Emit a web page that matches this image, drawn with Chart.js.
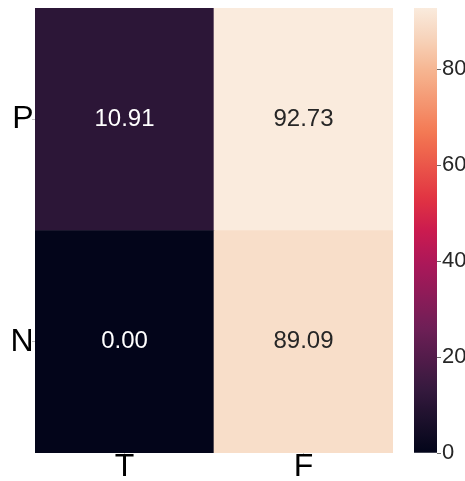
<!DOCTYPE html>
<html>
<head>
<meta charset="utf-8">
<script src="https://cdn.jsdelivr.net/npm/chart.js@4/dist/chart.umd.min.js"></script>
<style>
  html, body { margin: 0; padding: 0; background: #ffffff; }
  #wrap { position: relative; width: 465px; height: 481px; }
  #wrap canvas { position: absolute; left: 0; top: 0; }
</style>
</head>
<body>
<div id="wrap">
  <canvas id="heat" width="465" height="481"></canvas>
  <canvas id="cbar" width="465" height="481"></canvas>
</div>
<script>
// Heatmap contents: rows top to bottom, columns left to right
const rowLabels = ['P', 'N'];
const colLabels = ['T', 'F'];
const rowP = [10.91, 92.73];
const rowN = [0.00, 89.09];
const colorbarTicks = [0, 20, 40, 60, 80];

const cells = [rowP, rowN];
const allValues = cells.flat();
const vmin = Math.min(...allValues);
const vmax = Math.max(...allValues);

const FONT = '"Liberation Sans", Arial, sans-serif';

// "rocket" sequential colormap, sampled stops
const rocketStops = [
  [0.000, [3, 5, 26]],
  [0.050, [19, 13, 37]],
  [0.143, [53, 25, 62]],
  [0.286, [112, 31, 87]],
  [0.429, [173, 23, 89]],
  [0.500, [203, 27, 79]],
  [0.571, [225, 51, 66]],
  [0.714, [243, 118, 81]],
  [0.857, [246, 180, 143]],
  [0.930, [247, 211, 186]],
  [1.000, [250, 235, 221]]
];

function rocketRGB(t) {
  t = Math.max(0, Math.min(1, t));
  for (let i = 1; i < rocketStops.length; i++) {
    const [t1, c1] = rocketStops[i];
    const [t0, c0] = rocketStops[i - 1];
    if (t <= t1) {
      const f = (t - t0) / (t1 - t0);
      return c0.map((c, k) => Math.round(c + (c1[k] - c) * f));
    }
  }
  return rocketStops[rocketStops.length - 1][1];
}
function rgbStr(c) { return 'rgb(' + c[0] + ',' + c[1] + ',' + c[2] + ')'; }
function colorFor(v) { return rgbStr(rocketRGB((v - vmin) / (vmax - vmin))); }
function textColorFor(v) {
  const c = rocketRGB((v - vmin) / (vmax - vmin)).map(x => {
    x /= 255;
    return x <= 0.03928 ? x / 12.92 : Math.pow((x + 0.055) / 1.055, 2.4);
  });
  const lum = 0.2126 * c[0] + 0.7152 * c[1] + 0.0722 * c[2];
  return lum > 0.408 ? 'rgb(38,38,38)' : '#ffffff';
}

function noPadding(scale) {
  scale.paddingTop = 0; scale.paddingBottom = 0;
  scale.paddingLeft = 0; scale.paddingRight = 0;
}

// Each row is one stacked band of unit height; colour encodes the cell value
const heatDatasets = rowLabels.map((r, i) => ({
  label: r,
  data: colLabels.map(() => 1),
  cellValues: cells[i],
  backgroundColor: cells[i].map(colorFor),
  borderWidth: 0,
  barPercentage: 1,
  categoryPercentage: 1
})).reverse();

const cellText = {
  id: 'cellText',
  afterDatasetsDraw(chart) {
    const ctx = chart.ctx;
    ctx.save();
    ctx.font = '24px ' + FONT;
    ctx.textAlign = 'center';
    ctx.textBaseline = 'middle';
    chart.data.datasets.forEach((ds, di) => {
      chart.getDatasetMeta(di).data.forEach((el, j) => {
        const v = ds.cellValues[j];
        const p = el.getProps(['x', 'y', 'base'], true);
        ctx.fillStyle = textColorFor(v);
        ctx.fillText(v.toFixed(2), p.x, (p.y + p.base) / 2);
      });
    });
    ctx.restore();
  }
};

new Chart(document.getElementById('heat'), {
  type: 'bar',
  data: { labels: colLabels, datasets: heatDatasets },
  options: {
    responsive: false,
    animation: false,
    layout: { padding: { left: 0, top: 8, right: 72, bottom: 0 } },
    plugins: { legend: { display: false }, tooltip: { enabled: false } },
    scales: {
      x: {
        stacked: true,
        offset: true,
        grid: { offset: false, drawOnChartArea: false, tickLength: 3, color: '#c0c0c0' },
        border: { display: false },
        ticks: { color: '#000000', padding: -8, font: { family: FONT, size: 32 } },
        afterFit(s) { s.height = 28; noPadding(s); }
      },
      y: {
        stacked: true,
        min: 0,
        max: rowLabels.length,
        afterBuildTicks(s) { s.ticks = rowLabels.map((_, i) => ({ value: i + 0.5 })); },
        grid: { drawOnChartArea: false, tickLength: 3, color: '#c0c0c0' },
        border: { display: false },
        ticks: {
          color: '#000000',
          padding: -1.5,
          font: { family: FONT, size: 32 },
          callback(value) { return rowLabels[rowLabels.length - 1 - Math.floor(value)]; }
        },
        afterFit(s) { s.width = 35; noPadding(s); }
      }
    }
  },
  plugins: [cellText]
});

// Colour bar: one floating bar spanning the value range, filled with the colormap
function colorbarFill(context) {
  const chart = context.chart;
  if (!chart.chartArea) return 'rgba(0,0,0,0)';
  const y = chart.scales.y;
  const g = chart.ctx.createLinearGradient(0, y.getPixelForValue(vmin), 0, y.getPixelForValue(vmax));
  for (let i = 0; i <= 50; i++) {
    g.addColorStop(i / 50, rgbStr(rocketRGB(i / 50)));
  }
  return g;
}

new Chart(document.getElementById('cbar'), {
  type: 'bar',
  data: {
    labels: [''],
    datasets: [{
      data: [[vmin, vmax]],
      backgroundColor: colorbarFill,
      borderWidth: 0,
      barPercentage: 1,
      categoryPercentage: 1
    }]
  },
  options: {
    responsive: false,
    animation: false,
    layout: { padding: { left: 414, top: 8, right: 0, bottom: 28 } },
    plugins: { legend: { display: false }, tooltip: { enabled: false } },
    scales: {
      x: { display: false },
      y: {
        position: 'right',
        min: vmin,
        max: vmax,
        afterBuildTicks(s) { s.ticks = colorbarTicks.map(v => ({ value: v })); },
        grid: { drawOnChartArea: false, tickLength: 4, color: '#6a6a6a', lineWidth: 1 },
        border: { display: false },
        ticks: { color: 'rgb(38,38,38)', padding: 1, font: { family: FONT, size: 22 } },
        afterFit(s) { s.width = 28; noPadding(s); }
      }
    }
  }
});
</script>
</body>
</html>
